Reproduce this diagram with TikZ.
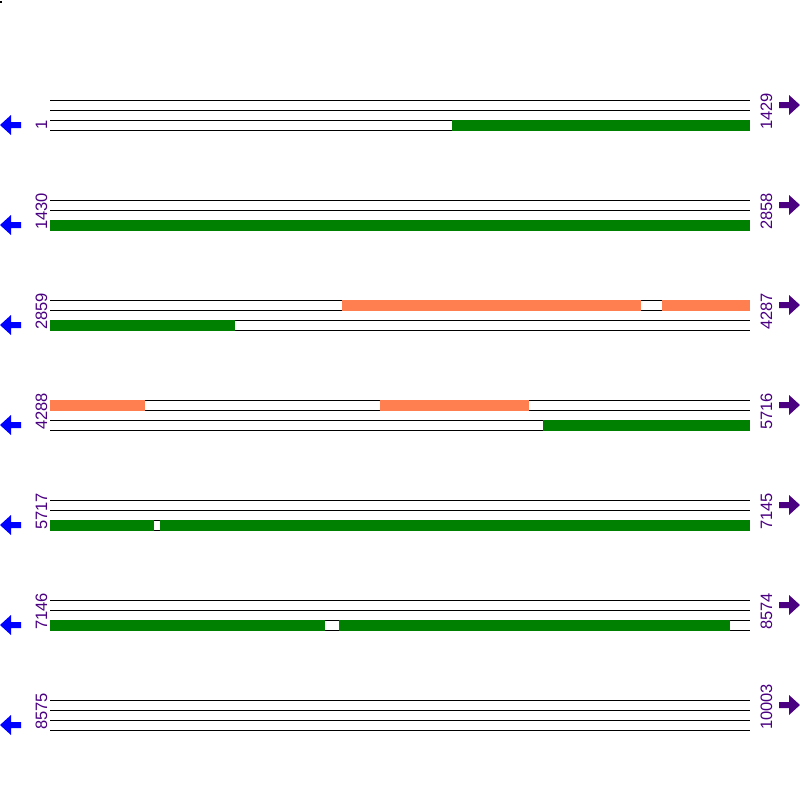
\documentclass[tikz,border=0pt]{standalone}
\usepackage{fontspec}
\setmainfont{Liberation Sans}
\definecolor{gbar}{HTML}{008000}
\definecolor{obar}{HTML}{FF7F50}
\definecolor{lbl}{HTML}{4B0082}
\definecolor{larr}{HTML}{0000FF}
\definecolor{rarr}{HTML}{4B0082}
\tikzset{
  trackline/.style={draw=black,line width=1pt},
  numlabel/.style={rotate=90,anchor=base west,inner sep=0pt,text=lbl,font=\fontsize{16.5}{16.5}\selectfont},
  greenbar/.style={fill=gbar,draw=none},
  orangebar/.style={fill=obar,draw=none},
}
\begin{document}
\begin{tikzpicture}[x=1pt,y=-1pt]
\useasboundingbox (0,0) rectangle (800,800);
\fill[white] (0,0) rectangle (800,800);
\fill[black] (0,1) rectangle (2,3);
% rows
\foreach \r/\a/\b in {0/1/1429,1/1430/2858,2/2859/4287,3/4288/5716,4/5717/7145,5/7146/8574,6/8575/10003}{
  \pgfmathsetmacro{\yy}{100+100*\r}
  \foreach \k in {0,10,20,30}{
    \draw[trackline] (50,\yy+\k) -- (750,\yy+\k);
  }
  \node[numlabel] (L\r) at (47,\yy+30) {\a};
  \node[numlabel] (R\r) at (772,\yy+30) {\b};
  \fill[larr] (0,\yy+25) -- (11,\yy+15) -- (11,\yy+22) -- (21,\yy+22) -- (21,\yy+28) -- (11,\yy+28) -- (11,\yy+35) -- cycle;
  \fill[rarr] (800,\yy+5) -- (789,\yy-5) -- (789,\yy+2) -- (779,\yy+2) -- (779,\yy+8) -- (789,\yy+8) -- (789,\yy+15) -- cycle;
}
% row 0
\path[greenbar] (452,119.5) rectangle (750,130.5);
% row 1
\path[greenbar] (50,219.5) rectangle (750,230.5);
% row 2
\path[orangebar] (342,299.5) rectangle (641,310.5);
\path[orangebar] (662,299.5) rectangle (750,310.5);
\path[greenbar] (50,319.5) rectangle (235,330.5);
% row 3
\path[orangebar] (50,399.5) rectangle (145,410.5);
\path[orangebar] (380,399.5) rectangle (529,410.5);
\path[greenbar] (543,419.5) rectangle (750,430.5);
% row 4
\path[greenbar] (50,519.5) rectangle (154,530.5);
\path[greenbar] (160,519.5) rectangle (750,530.5);
% row 5
\path[greenbar] (50,619.5) rectangle (325,630.5);
\path[greenbar] (339,619.5) rectangle (730,630.5);
\end{tikzpicture}
\end{document}
